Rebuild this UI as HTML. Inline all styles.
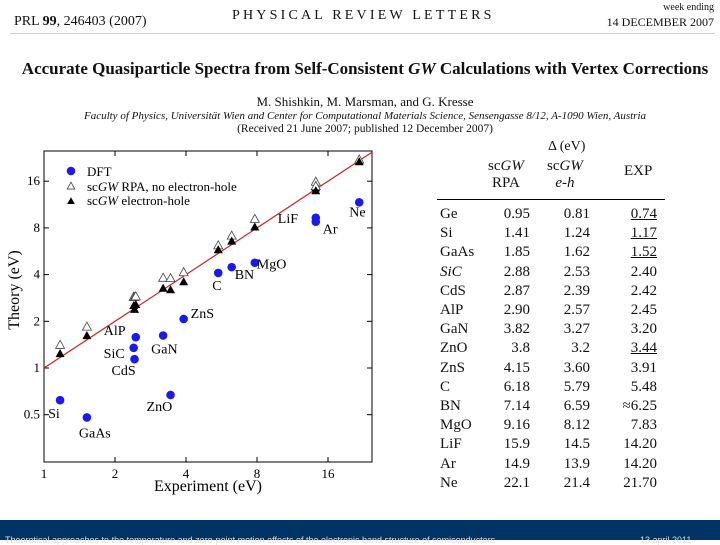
<!DOCTYPE html>
<html><head><meta charset="utf-8">
<style>
body{margin:0;width:720px;height:540px;overflow:hidden;background:#fff;position:relative;font-family:"Liberation Serif",serif;color:#111}
.a{position:absolute;white-space:nowrap}
#tbl .r{position:absolute;font-size:15px;line-height:18px}
</style></head><body>
<div class="a" style="left:14px;top:14px;font-size:14px">PRL <b>99</b>, 246403 (2007)</div>
<div class="a" style="left:232px;top:8px;font-size:14px;letter-spacing:3.2px">PHYSICAL REVIEW LETTERS</div>
<div class="a" style="left:614px;top:2px;font-size:10px;width:100px;text-align:right">week ending</div>
<div class="a" style="left:590px;top:15px;font-size:12px;width:124px;text-align:right">14 DECEMBER 2007</div>
<div class="a" style="left:10px;top:33px;width:705px;height:1px;background:#ccc"></div>
<div class="a" style="left:0;width:730px;text-align:center;top:59px;font-size:17px;font-weight:bold">Accurate Quasiparticle Spectra from Self-Consistent <i>GW</i> Calculations with Vertex Corrections</div>
<div class="a" style="left:0;width:730px;text-align:center;top:94px;font-size:13px">M. Shishkin, M. Marsman, and G. Kresse</div>
<div class="a" style="left:0;width:730px;text-align:center;top:110px;font-size:11px;font-style:italic">Faculty of Physics, Universität Wien and Center for Computational Materials Science, Sensengasse 8/12, A-1090 Wien, Austria</div>
<div class="a" style="left:0;width:730px;text-align:center;top:123px;font-size:11.5px">(Received 21 June 2007; published 12 December 2007)</div>

<svg class="a" style="left:0;top:0" width="430" height="510" font-family="Liberation Serif, serif">
<g id="g"></g>
</svg>

<div id="tbl">
<div class="a" style="left:548px;top:139px;font-size:14px">Δ (eV)</div>
<div class="a" style="left:488px;top:158px;font-size:15px;text-align:center;line-height:17px">sc<i>GW</i><br>RPA</div>
<div class="a" style="left:547px;top:158px;font-size:15px;text-align:center;line-height:17px">sc<i>GW</i><br><i>e-h</i></div>
<div class="a" style="left:624px;top:163px;font-size:15px">EXP</div>
<div class="a" style="left:437px;top:199px;width:228px;height:1px;background:#000"></div>
</div>

<div class="a" style="left:0;top:520px;width:720px;height:20px;background:#003366"></div>
<div class="a" style="left:5px;top:535px;font-size:9px;color:#ddd;font-family:'Liberation Sans',sans-serif">Theoretical approaches to the temperature and zero-point motion effects of the electronic band structure of semiconductors</div>
<div class="a" style="left:640px;top:535px;font-size:9px;color:#ddd;font-family:'Liberation Sans',sans-serif">13 april 2011</div>

<script>
const materials=["Ge","Si","GaAs","SiC","CdS","AlP","GaN","ZnO","ZnS","C","BN","MgO","LiF","Ar","Ne"];
const rpaStr=["0.95","1.41","1.85","2.88","2.87","2.90","3.82","3.8","4.15","6.18","7.14","9.16","15.9","14.9","22.1"];
const ehStr=["0.81","1.24","1.62","2.53","2.39","2.57","3.27","3.2","3.60","5.79","6.59","8.12","14.5","13.9","21.4"];
const expStr=["0.74","1.17","1.52","2.40","2.42","2.45","3.20","3.44","3.91","5.48","≈6.25","7.83","14.20","14.20","21.70"];
const dftVals=[null,0.62,0.48,1.35,1.14,1.58,1.62,0.67,2.07,4.1,4.47,4.77,9.3,8.77,11.7];
const underlined=[true,true,true,false,false,false,false,true,false,false,false,false,false,false,false];
const xTicks=[1,2,4,8,16];
const yTicks=[0.5,1,2,4,8,16];
const labelOffsets={Si:[-12,18],GaAs:[-8,20],AlP:[-32,-2],SiC:[-30,10],CdS:[-23,16],GaN:[-12,18],ZnS:[7,-1],ZnO:[-24,16],C:[-6,17],BN:[3,12],MgO:[2,6],LiF:[-38,5],Ar:[7,12],Ne:[-10,14]};

const X0=44,X1=372,Y0=462,Y1=151;
const PX=71,PY=46.7;
const xs=v=>X0+Math.log2(v)*PX;
const ys=v=>368-Math.log2(v)*PY;
const NS="http://www.w3.org/2000/svg";
const g=document.getElementById('g');
function mk(t,at,txt){const e=document.createElementNS(NS,t);for(const k in at)e.setAttribute(k,at[k]);if(txt!=null)e.textContent=txt;g.appendChild(e);return e;}
const num=s=>parseFloat(s.replace('≈',''));

let f=mk('rect',{x:X0,y:Y1,width:X1-X0,height:Y0-Y1,fill:'none',stroke:'#000','stroke-width':1});

xTicks.forEach(t=>{const x=xs(t);
 let l=mk('line',{x1:x,x2:x,y1:Y0,y2:Y0-5,stroke:'#000'});
 let l2=mk('line',{x1:x,x2:x,y1:Y1,y2:Y1+5,stroke:'#000'});
 let tx=mk('text',{x:x,y:Y0+16,'font-size':13,'text-anchor':'middle'},String(t));});
yTicks.forEach(t=>{const y=ys(t);
 let l=mk('line',{x1:X0,x2:X0+5,y1:y,y2:y,stroke:'#000'});
 let l2=mk('line',{x1:X1,x2:X1-5,y1:y,y2:y,stroke:'#000'});
 let tx=mk('text',{x:X0-4,y:y+4,'font-size':13,'text-anchor':'end'},String(t));});
let xt=mk('text',{x:208,y:491,'font-size':16,'text-anchor':'middle'},'Experiment (eV)');
let yt=mk('text',{x:19,y:290,'font-size':16,'text-anchor':'middle',transform:'rotate(-90 19 290)'},'Theory (eV)');
const lmax=Math.min((X1-X0)/PX,(368-Y1)/PY);
let rl=mk('line',{x1:xs(1),y1:ys(1),x2:xs(Math.pow(2,lmax)),y2:ys(Math.pow(2,lmax)),stroke:'#cc2222','stroke-width':1.2});

const tri=(x,y,s)=>`${x},${y-s} ${x-s},${y+s*0.8} ${x+s},${y+s*0.8}`;
materials.forEach((m,i)=>{const e=num(expStr[i]);if(e<1)return;const x=xs(e);
 let a=mk('polygon',{points:tri(x,ys(num(rpaStr[i])),4.5),fill:'#fff',stroke:'#444','stroke-width':0.8});
 let b=mk('polygon',{points:tri(x,ys(num(ehStr[i])),4.5),fill:'#000'});
 if(dftVals[i]!=null){const y=ys(dftVals[i]);
  let c=mk('circle',{cx:x,cy:y,r:4.3,fill:'#1a1aee'});
  const o=labelOffsets[m];let t=mk('text',{x:x+o[0],y:y+o[1],'font-size':14},m);}
});
let lc=mk('circle',{cx:71,cy:171,r:4.3,fill:'#1a1aee'});
let l1=mk('text',{x:87,y:176,'font-size':13},'DFT');
let lt=mk('polygon',{points:tri(71,186,3.8),fill:'#fff',stroke:'#444','stroke-width':0.8});
let l2=mk('text',{x:87,y:191,'font-size':13});l2.innerHTML='sc<tspan font-style="italic">GW</tspan> RPA, no electron-hole';
let lf=mk('polygon',{points:tri(71,201,3.8),fill:'#000'});
let l3=mk('text',{x:87,y:205,'font-size':13});l3.innerHTML='sc<tspan font-style="italic">GW</tspan> electron-hole';

const tbl=document.getElementById('tbl');
materials.forEach((m,i)=>{const top=205+i*19.2;
 const cells=[[m,440,'left',m==='SiC'],[rpaStr[i],530,'right'],[ehStr[i],590,'right'],[expStr[i],657,'right']];
 cells.forEach((c,j)=>{const d=document.createElement('div');d.className='a r';
  
  
  d.textContent=c[0];
  if(c[2]==='left')d.style.left=c[1]+'px';else{d.style.left=(c[1]-60)+'px';d.style.width='60px';d.style.textAlign='right';}
  d.style.top=top+'px';if(c[3])d.style.fontStyle='italic';
  if(j===3&&underlined[i])d.style.textDecoration='underline';
  tbl.appendChild(d);});
});
</script>
</body></html>
